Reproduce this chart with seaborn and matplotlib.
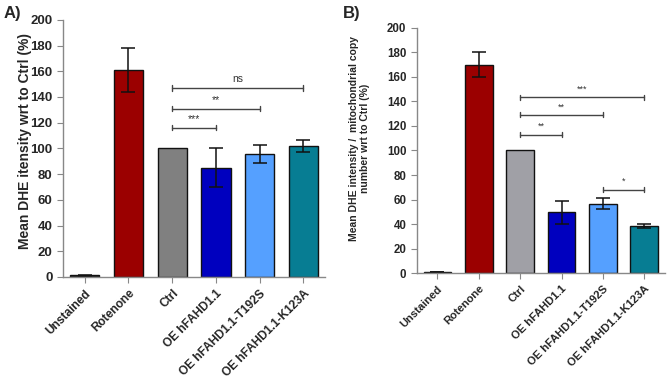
import matplotlib
matplotlib.use("Agg")
import matplotlib.pyplot as plt
import seaborn as sns
import pandas as pd
import numpy as np

categories = ["Unstained", "Rotenone", "Ctrl", "OE hFAHD1.1", "OE hFAHD1.1-T192S", "OE hFAHD1.1-K123A"]

a_values = [1.2, 161, 100, 85, 95.5, 102]
a_errors = [0.3, 17, 0, 15, 7, 4.5]
b_values = [1.0, 170, 100, 49.5, 56.5, 38.5]
b_errors = [0.3, 10, 0, 9.5, 4.5, 1.5]

a_colors = ["#222222", "#9b0000", "#808080", "#0000bf", "#55a0ff", "#077d93"]
b_colors = ["#222222", "#9b0000", "#a0a0a6", "#0000bf", "#55a0ff", "#077d93"]

# (start index, end index, y, label)
a_sig = [(2, 3, 116, "***"), (2, 4, 131, "**"), (2, 5, 147, "ns")]
b_sig = [(2, 3, 113, "**"), (2, 4, 129, "**"), (2, 5, 143.5, "***"), (4, 5, 68, "*")]

sns.set_style("ticks")
plt.rcParams["font.family"] = ["Liberation Sans", "DejaVu Sans"]

fig = plt.figure(figsize=(6.69, 3.81), dpi=100)
axA = fig.add_axes([0.094, 0.273, 0.392, 0.675])
axB = fig.add_axes([0.623, 0.283, 0.371, 0.644])


def draw(ax, values, errors, colors, sig, ylabel, ylsize, yticksize, xticksize, sigsize, lx, ly):
    df = pd.DataFrame({"cat": categories, "val": values})
    sns.barplot(data=df, x="cat", y="val", hue="cat", palette=colors, legend=False,
                ax=ax, width=0.67, edgecolor="#111111", linewidth=1.0, saturation=1)
    xs = np.arange(len(categories))
    for x, v, e in zip(xs, values, errors):
        if e > 0:
            ax.errorbar(x, v, yerr=e, fmt="none", ecolor="#111111", elinewidth=1.1,
                        capsize=5, capthick=1.1)
    for s, t, y, lab in sig:
        ax.plot([s, t], [y, y], color="#444444", lw=1.0)
        ax.plot([s, s], [y - 2, y + 2], color="#444444", lw=1.0)
        ax.plot([t, t], [y - 2, y + 2], color="#444444", lw=1.0)
        ax.text((s + t) / 2, y + 3, lab, ha="center", va="bottom", fontsize=sigsize, color="#333333")
    ax.set_xlim(-0.5, 5.5)
    ax.set_ylim(0, 200)
    ax.set_yticks(range(0, 201, 20))
    ax.set_xlabel("")
    ax.set_ylabel(ylabel, fontsize=ylsize, fontweight="bold", linespacing=1.1)
    ax.yaxis.set_label_coords(lx, ly)
    ax.tick_params(axis="y", labelsize=yticksize, length=4, color="#888888")
    ax.tick_params(axis="x", labelsize=xticksize, length=4, color="#888888")
    for lab in ax.get_yticklabels():
        lab.set_fontweight("bold")
    ax.set_xticks(xs)
    ax.set_xticklabels(categories, rotation=45, ha="right", rotation_mode="anchor",
                       fontweight="bold", fontsize=xticksize)
    sns.despine(ax=ax)
    for sp in ["left", "bottom"]:
        ax.spines[sp].set_color("#888888")
        ax.spines[sp].set_linewidth(1.0)


draw(axA, a_values, a_errors, a_colors, a_sig, "Mean DHE itensity wrt to Ctrl (%)",
     10.0, 9.5, 8.6, 7.5, -0.118, 0.53)
draw(axB, b_values, b_errors, b_colors, b_sig,
     "Mean DHE intensity /  mitochondrial copy\nnumber wrt to Ctrl (%)", 7.5, 8.3, 8.0, 6.5, -0.19, 0.55)

fig.text(0.005, 0.985, "A)", fontsize=12, fontweight="bold", va="top", ha="left")
fig.text(0.513, 0.985, "B)", fontsize=12, fontweight="bold", va="top", ha="left")

fig.savefig("out.png", dpi=100)
